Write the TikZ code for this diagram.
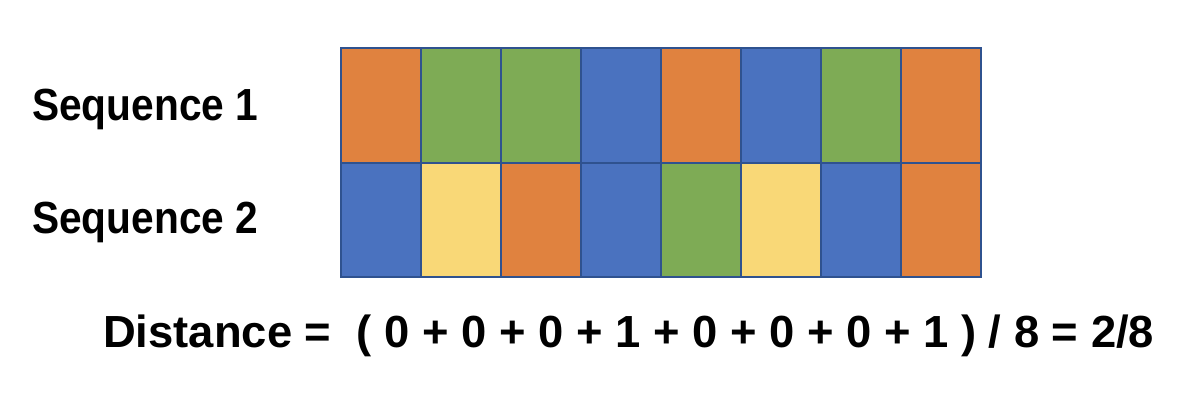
\documentclass[tikz,border=0pt]{standalone}
\usepackage{fontspec}
\usepackage{graphicx}
\setmainfont{Liberation Sans}
\definecolor{cO}{HTML}{E0823F}
\definecolor{cG}{HTML}{7EAB55}
\definecolor{cB}{HTML}{4A72BF}
\definecolor{cY}{HTML}{F9D877}
\definecolor{edge}{HTML}{2F528F}
\tikzset{
  cell/.style={draw=edge, line width=2pt, minimum width=80pt, minimum height=114.5pt, inner sep=0pt, outer sep=0pt, anchor=north west},
  lbl/.style={anchor=base west, inner sep=0pt, font=\fontsize{45}{50}\selectfont\bfseries},
}
\begin{document}
\begin{tikzpicture}[x=1pt,y=1pt]
\useasboundingbox (0,0) rectangle (1186,400);
\foreach \c [count=\i from 0] in {cO,cG,cG,cB,cO,cB,cG,cO} {
  \node[cell, fill=\c] (a\i) at ({341+80*\i},352) {};
}
\foreach \c [count=\i from 0] in {cB,cY,cO,cB,cG,cY,cB,cO} {
  \node[cell, fill=\c] (b\i) at ({341+80*\i},237.5) {};
}
\node[lbl] (s1) at (32,280) {\resizebox{226pt}{\height}{Sequence 1}};
\node[lbl] (s2) at (32,167) {\resizebox{226pt}{\height}{Sequence 2}};
\node[lbl] (d) at (103,53) {\resizebox{1051pt}{\height}{Distance =~~( 0 + 0 + 0 + 1 + 0 + 0 + 0 + 1 ) / 8 = 2/8}};
\end{tikzpicture}
\end{document}
